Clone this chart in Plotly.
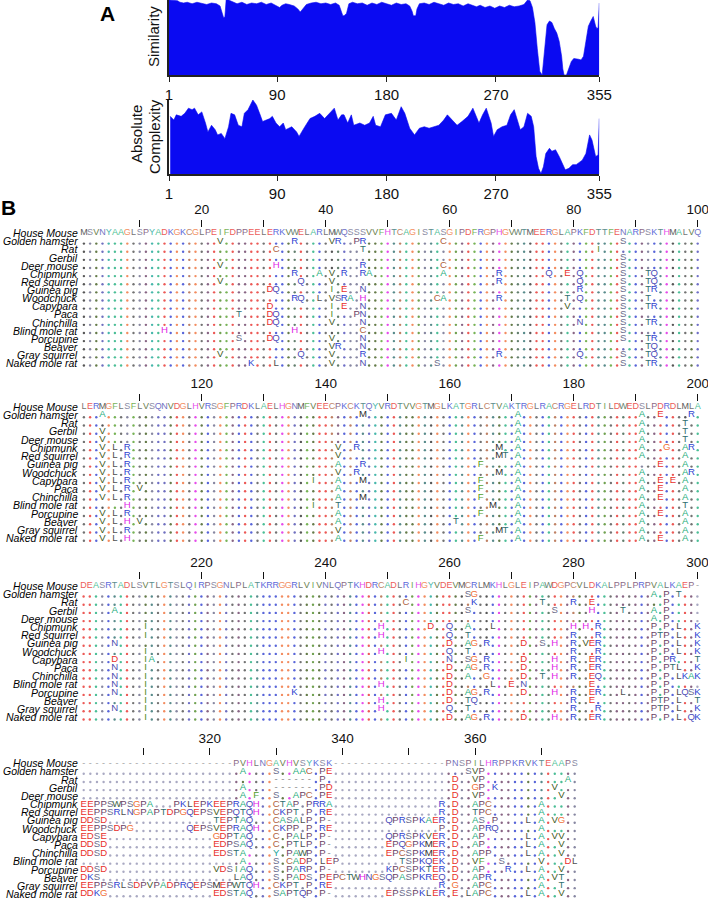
import plotly.graph_objects as go

W, H = 708, 900
BLUE = "#0a0af2"
FONT = "Liberation Sans, Arial, sans-serif"

# ---------------- Panel A data ----------------
sim_pos = [1, 4, 8, 10, 13, 16, 20, 24, 28, 32, 36, 40, 43, 45, 46, 47, 48, 50, 53, 57, 61, 65, 69, 73,
           77, 81, 85, 89, 92, 94, 97, 100, 104, 107, 109, 111, 114, 118, 122, 126, 130, 134, 138, 141,
           143, 144, 145, 147, 149, 152, 156, 160, 164, 168, 172, 176, 180, 184, 188, 192, 196, 199, 201,
           202, 204, 205, 207, 211, 215, 219, 223, 227, 231, 235, 239, 243, 247, 251, 254, 257, 261, 265,
           269, 273, 277, 281, 285, 289, 293, 296, 298, 300, 302, 304, 306, 308, 310, 312, 314, 316, 318,
           320, 322, 324, 325, 326, 328, 330, 332, 334, 336, 338, 340, 342, 344, 346, 348, 350, 352, 353,
           354, 355]
sim_val = [100, 100, 99, 97, 96, 97, 95, 97, 96, 94, 96, 95, 92, 80, 76, 78, 100, 100, 98, 95, 97, 94, 96, 95,
           97, 94, 96, 93, 90, 93, 95, 94, 92, 88, 84, 88, 94, 96, 97, 95, 96, 94, 96, 93,
           85, 79, 79, 82, 95, 97, 95, 96, 93, 96, 94, 97, 95, 93, 96, 94, 95, 92, 85,
           79, 79, 88, 95, 96, 94, 97, 95, 93, 96, 94, 95, 92, 95, 93, 91, 93, 90, 92,
           89, 92, 90, 93, 91, 92, 94, 100, 99, 90, 70, 35, 5, 0, 30, 67, 72, 70, 62,
           56, 45, 25, 8, 0, 0, 10, 18, 22, 22, 21, 20, 25, 45, 65, 72, 78, 65, 62,
           63, 96]

cx_pos = [2, 5, 7, 11, 14, 17, 20, 22, 25, 28, 31, 33, 36, 39, 41, 44, 47, 50, 52, 55, 58, 61, 63, 66,
          70, 73, 76, 78, 81, 84, 86, 89, 92, 95, 97, 102, 106, 108, 112, 117, 121, 125, 129, 133, 137,
          140, 143, 145, 148, 151, 153, 158, 162, 166, 169, 171, 175, 179, 184, 188, 192, 195, 199, 203,
          207, 211, 215, 219, 223, 227, 230, 234, 238, 242, 247, 251, 253, 256, 259, 262, 266, 268, 271,
          275, 279, 282, 285, 288, 290, 293, 296, 299, 301, 303, 305, 307, 309, 311, 314, 316, 319, 322,
          325, 327, 330, 333, 336, 338, 341, 344, 347, 349, 351, 352, 354, 355]
cx_val = [78, 73, 80, 78, 82, 89, 87, 89, 80, 84, 69, 57, 66, 60, 53, 55, 48, 64, 82, 80, 66, 64, 82, 87,
          100, 93, 80, 71, 73, 75, 78, 69, 64, 69, 60, 64, 57, 51, 62, 75, 78, 82, 75, 82, 89,
          73, 80, 80, 69, 80, 66, 69, 66, 69, 78, 66, 64, 80, 82, 73, 91, 82, 62, 53,
          62, 64, 62, 64, 66, 73, 80, 73, 66, 71, 78, 89, 80, 69, 80, 89, 69, 51, 60,
          64, 66, 80, 87, 69, 60, 64, 82, 78, 64, 24, 8, 1, 10, 28, 35, 31, 33, 24,
          13, 6, 8, 13, 13, 15, 19, 28, 53, 46, 33, 24, 26, 75]

axis_ticks_A = [1, 90, 180, 270, 355]

# ---------------- Panel B data ----------------
species = ["House Mouse", "Golden hamster", "Rat", "Gerbil", "Deer mouse", "Chipmunk", "Red squirrel",
           "Guinea pig", "Woodchuck", "Capybara", "Paca", "Chinchilla", "Blind mole rat", "Porcupine",
           "Beaver", "Gray squirrel", "Naked mole rat"]

mouse_b1 = "MSVNYAAGLSPYADKGKCGLPEIFDPPEELERKVWELARLMWQSSSVVFHTCAGISTASGIPDFRGPHGVWTMEERGLAPKFDTTFENARPSKTHMALVQ"
mouse_b2 = "LERMGFLSFLVSQNVDGLHVRSGFPRDKLAELHGNMFVEECPKCKTQYVRDTVVGTMGLKATGRLCTVAKTRGLRACRGELRDTILDWEDSLPDRDLMLA"
mouse_b3 = "DEASRTADLSVTLGTSLQIRPSGNLPLATKRRGGRLVIVNLQPTKHDRCADLRIHGYVDEVMCRLMKHLGLEIPAWDGPCVLDKALPPLPRPVALKAEP-"
mouse_b4 = "-----------------------PVHLNGAVHVSYKSK-----------------PNSPILHRPPKRVKTEAAPS"

# substitutions relative to House Mouse: "<column><residues>"
b1_var = ["23V 35R 41V 42R 45P 46R 59C 88S",
          "32C 46T 84I",
          "88S",
          "23V 32H 46R 59C 88S",
          "35R 39A 41V 43R 46R 47A 59A 68R 76Q 79E 81Q 88S 92T 93Q",
          "23V 36Q 41V 68R 81Q 88S 92T 93Q",
          "31D 32Q 41I 43E 46N 81R 88S 92T 93R",
          "35R 36Q 39L 41V 42S 43R 44A 46H 58C 59A 68R 79T 81Q 88S 92T",
          "31D 41I 43E 46N 79V 88S 92T 93R",
          "26T 31D 32Q 41I 45P 46N 88S",
          "31D 32Q 41V 46N 81N 88S 92T 93R",
          "14H 35H 46C 88S",
          "26S 31D 32Q 41V 46N 88S 92T 93R",
          "41V 42R 46N 92T 93Q",
          "23V 36Q 41V 46R 68R 81Q 88S 92T 93Q",
          "28K 32L 41V 46N 58S 88S 92T 93R"]

b2_var = ["104A 146M 171A 191A 194E 199R",
          "171A 191A 198T",
          "104V 171A 191A 198T",
          "104V 171A 191A 198T",
          "104V 106L 108R 142V 145R 168M 171A 191A 195G 198A 199R",
          "104V 106L 108R 142V 168M 169T 171A 191A 198A",
          "104V 106L 108R 142A 146R 165F 171A 194E 198A",
          "104V 106L 108R 142V 145R 168M 171A 191A 198A 199R",
          "104V 106L 108R 138I 142A 146M 165F 171A 191A 194E 196E 198A",
          "104V 106L 108R 110V 142A 165F 171A 191A 194E 198A",
          "104V 106L 108R 142A 146M 165F 171A 191A 194E 198A",
          "108H 138I 142T 167M 171A 191A 198T",
          "104V 106L 108R 142A 165F 171A 191A 194E 198A",
          "104V 106L 108H 110V 142A 161T 171A 191A 198A",
          "104V 106L 108R 142V 168M 169T 171A 191A 198A",
          "104V 106L 108H 142A 165F 171A 191A 194E 198A"]

b3_var = ["263S 264G 293A 295P 297T",
          "253C 264K 275T 280R 283E 295P",
          "206A 263S 277S 283H 288T 293A 295P",
          "293A 295P",
          "211I 249H 257D 260Q 263A 267L 280H 282H 284R 293P 295P 297L 300K",
          "211I 249H 260Q 263T 280R 284R 293P 294T 295P 297L 300K",
          "206N 260D 263A 264G 266R 272D 275S 277H 280R 282V 283E 284R 293P 295P 297L 300K",
          "211I 249H 260Q 263T 280R 284R 293P 295P 297L 300K",
          "206D 211I 212A 253I 260N 263S 264G 266R 272D 277H 280R 283E 284R 293P 295P 296R 300T",
          "206N 211I 260D 263A 264G 266R 272D 277H 280R 283E 284R 293P 295P 296T 297L 300K",
          "206N 211I 260D 263A 266G 272D 275T 277H 280R 283E 284Q 293P 295P 297L 298K 299A 300K",
          "206N 211I 249H 260D 267L 270E 272N 283E 293P 295P",
          "206N 211I 235K 260D 263A 264G 266R 272D 277H 280R 283E 284R 288L 293P 295P 297L 298Q 299S 300K",
          "211I 249H 260D 263T 264Q 280R 283E 293P 294T 295P 297L 300T",
          "206N 211I 249H 260Q 263T 280R 284R 293P 294T 295P 297L 300K",
          "211I 260D 263A 264G 266R 272D 277H 280R 283E 284R 293P 295P 297L 299Q 300K"]

b4_var = ["325A 330S 333AAC 337PE 359SVP",
          "330------ 337P 357D 360VP 374A",
          "325A 330------ 337PD 357D 360GP 363K 372V",
          "325A 327F 330S 333APC 337PE 357D 360VP 373V",
          "301EEPPSWPSGPA 315PKLEPKEEPRAQH 330CTAP 335PRRA 355R 357D 360APC 370A",
          "301EEPPSRLNGPAPTDPGQEPSVEPQTQH 330CKPT 335P 337RE 355R 357D 360TPC 370A",
          "301DDSD 321TEPTAQ 330CASALP 337P- 347QPRSPKAER 357D 360AS 363P 368L 370A 372VG",
          "301EEPPSDPG 317QEPSVEPRAQH 330CKPP 335P 337RE 355P 357D 360APRQ 370A",
          "301EDSE 321GDPTAQ 330C 332PALP 337P- 347QPRSPKVER 357D 360AP 368L 370A 372VV",
          "301DDSD 321EDPSAQ 330C 332PTLP 337P- 347EPQGPKMER 357D 360AP 368L 370A 373V",
          "301DDSD 321EDSTA 330Y 332PAWP 337P- 347EPCSPKMER 357D 360APP 368L 370A 373V",
          "325A 330S 332CADP 337LEP 349TSPKQEK 357D 360VF 364S 370V 374DL",
          "301DDSD 321VDSIAQ 330S 332PARP 337P- 347KPCSPKTER 357D 360AP 365R 368L 370A 373V",
          "301DKS 324LAQ 330S 332PADS 337PEPCTWHNGSQPASPKREQ 357D 360APR 370A 372VT",
          "301EEPPSRLSDPVPADPRQEPSMEPWTQH 330CKPT 335P 337RE 355R 357G 360APC 370A 373T",
          "301DDKG 321EDSTAQ 330SAPTQP 337P- 347EPSSPKLER 357E 359LAPC 368L 370A 373V"]

b1_ticks = list(range(10, 101, 10))
b2_ticks = list(range(110, 201, 10))
b3_ticks = list(range(210, 301, 10))
b4_ticks = list(range(310, 371, 10))

# ---------------- styling ----------------
res_colors = {
    'D': '#e8302c', 'E': '#e8302c', 'K': '#2f3fd0', 'R': '#2f3fd0', 'H': '#e01ee6',
    'A': '#1fae7c', 'G': '#f07038', 'C': '#b0623e', 'V': '#3f5a1c', 'I': '#4d8a25',
    'L': '#4f4f4f', 'M': '#2e2e2e', 'F': '#55a02c', 'W': '#3d5f4a', 'Y': '#1aa596',
    'N': '#4b4bb0', 'Q': '#4b4bb8', 'S': '#6a6a8a', 'T': '#2f6f6f', 'P': '#6b3f66',
    '-': '#8a8a8a'
}


def mix(hexc, f):
    r, g, b = int(hexc[1:3], 16), int(hexc[3:5], 16), int(hexc[5:7], 16)
    r, g, b = [int(c + (255 - c) * f) for c in (r, g, b)]
    return f"rgb({r},{g},{b})"


def parse(tokens):
    out = {}
    for tok in tokens.split():
        i = 0
        while tok[i].isdigit():
            i += 1
        col = int(tok[:i])
        for k, ch in enumerate(tok[i:]):
            out[col + k] = ch
    return out


# geometry of each alignment block (pixels)
blocks = [
    dict(ref=mouse_b1, start=1, var=b1_var, ticks=b1_ticks, x0=83.9, cw=6.2, top=227.5, hm=233.2, rh=8.125),
    dict(ref=mouse_b2, start=101, var=b2_var, ticks=b2_ticks, x0=83.9, cw=6.2, top=401.5, hm=406.7, rh=8.23),
    dict(ref=mouse_b3, start=201, var=b3_var, ticks=b3_ticks, x0=83.6, cw=6.2, top=580.0, hm=586.0, rh=8.2),
    dict(ref=mouse_b4, start=301, var=b4_var, ticks=b4_ticks, x0=83.7, cw=6.635, top=756.0, hm=763.3, rh=8.17),
]

fig = go.Figure()

# Panel A traces
fig.add_trace(go.Scatter(x=sim_pos, y=sim_val, mode='lines', fill='tozeroy', fillcolor=BLUE,
                         line=dict(color=BLUE, width=0.6), xaxis='x', yaxis='y', hoverinfo='skip',
                         showlegend=False))
fig.add_trace(go.Scatter(x=cx_pos, y=cx_val, mode='lines', fill='tozeroy', fillcolor=BLUE,
                         line=dict(color=BLUE, width=0.6), xaxis='x2', yaxis='y2', hoverinfo='skip',
                         showlegend=False))

layout = dict(
    width=W, height=H, margin=dict(l=0, r=0, t=0, b=0, pad=0),
    paper_bgcolor='white', plot_bgcolor='rgba(0,0,0,0)', showlegend=False,
    font=dict(family=FONT, color='#111'),
)
xa = 169 / W
xb = 599.3 / W
for k, (ytop, ybot) in enumerate([(0, 75), (100, 174.3)], start=1):
    sfx = '' if k == 1 else str(k)
    layout['xaxis' + sfx] = dict(domain=[xa, xb], range=[1, 355], anchor='y' + sfx,
                                 tickvals=axis_ticks_A, ticks='outside', ticklen=5, tickwidth=1.3,
                                 tickcolor='#222', showline=True, linecolor='#222', linewidth=1.5,
                                 showgrid=False, zeroline=False, automargin=False,
                                 ticklabeloverflow='allow', tickfont=dict(size=15, family=FONT))
    layout['yaxis' + sfx] = dict(domain=[1 - ybot / H, 1 - ytop / H], range=[0, 100], anchor='x' + sfx,
                                 showline=True, linecolor='#222', linewidth=1.5, ticks='',
                                 showticklabels=False, showgrid=False, zeroline=False, automargin=False)


def paper_note(text, px, py, size, angle=0, bold=False):
    return dict(text=("<b>%s</b>" % text) if bold else text, x=px / W, y=1 - py / H,
                xref='paper', yref='paper', xanchor='center', yanchor='middle', showarrow=False,
                textangle=angle, font=dict(size=size, family=FONT, color='#000' if bold else '#111'))


annotations = [
    paper_note("A", 107, 13, 21, bold=True),
    paper_note("B", 8, 208, 21, bold=True),
    paper_note("Similarity", 154, 37, 15, angle=-90),
    paper_note("Absolute", 137, 134, 15, angle=-90),
    paper_note("Complexity", 154, 137, 15, angle=-90),
]

for bi, bl in enumerate(blocks):
    ax = bi + 3
    xs, ys = 'x%d' % ax, 'y%d' % ax
    ref, start = bl['ref'], bl['start']
    bottom = min(bl['hm'] + 16 * bl['rh'] + 7, H)
    # column-unit x range mapping the block onto the page
    xr = [start - bl['x0'] / bl['cw'], start + (W - bl['x0']) / bl['cw']]
    yr = [(bottom - bl['hm']) / bl['rh'], (bl['top'] - bl['hm']) / bl['rh']]
    layout['xaxis%d' % ax] = dict(domain=[0, 1], range=xr, anchor=ys, side='top',
                                  tickvals=bl['ticks'],
                                  ticktext=[str(t) if t % 20 == 0 else '' for t in bl['ticks']],
                                  ticks='outside', ticklen=7, tickwidth=1.4, tickcolor='#111',
                                  showline=False, showgrid=False, zeroline=False, automargin=False,
                                  ticklabeloverflow='allow',
                                  tickfont=dict(size=13.5, family=FONT, color='#111'))
    layout['yaxis%d' % ax] = dict(domain=[max(0.0, 1 - bottom / H), 1 - bl['top'] / H], range=yr,
                                  anchor=xs, visible=False)

    tx, ty, tt, tc = [], [], [], []
    vx, vy, vt, vc = [], [], [], []
    dx, dy, dc = [], [], []
    for i, ch in enumerate(ref):
        tx.append(start + i); ty.append(0); tt.append(ch)
        tc.append(mix(res_colors.get(ch, '#555555'), 0.22))
    for r, tok in enumerate(bl['var'], start=1):
        subs = parse(tok)
        for i, rc in enumerate(ref):
            col = start + i
            if col in subs:
                ch = subs[col]
                vx.append(col); vy.append(r); vt.append(ch)
                vc.append(res_colors.get(ch, '#555555'))
            else:
                dx.append(col); dy.append(r + 0.28)
                dc.append(mix('#9a9ab8', 0.15) if rc == '-' else mix(res_colors.get(rc, '#777777'), 0.2))
    fig.add_trace(go.Scatter(x=dx, y=dy, mode='markers', xaxis=xs, yaxis=ys, hoverinfo='skip',
                             marker=dict(size=2.4, color=dc, line=dict(width=0)), showlegend=False,
                             cliponaxis=False))
    fig.add_trace(go.Scatter(x=tx, y=ty, mode='text', text=tt, textposition='middle center',
                             xaxis=xs, yaxis=ys, hoverinfo='skip', showlegend=False, cliponaxis=False,
                             textfont=dict(size=9, family=FONT, color=tc)))
    fig.add_trace(go.Scatter(x=vx, y=vy, mode='text', text=vt, textposition='middle center',
                             xaxis=xs, yaxis=ys, hoverinfo='skip', showlegend=False, cliponaxis=False,
                             textfont=dict(size=9.6, family=FONT, color=vc)))
    label_x = start + (79.5 - bl['x0']) / bl['cw']
    for r, name in enumerate(species):
        annotations.append(dict(text="<i>%s</i>" % name, x=label_x, y=r, xref=xs, yref=ys,
                                xanchor='right', yanchor='middle', showarrow=False,
                                font=dict(size=10.5, family=FONT, color='#000')))

layout['annotations'] = annotations
fig.update_layout(**layout)
fig.write_html("out.html", config={'displayModeBar': False},
               post_script="document.body.style.margin='0';document.body.style.padding='0';")
